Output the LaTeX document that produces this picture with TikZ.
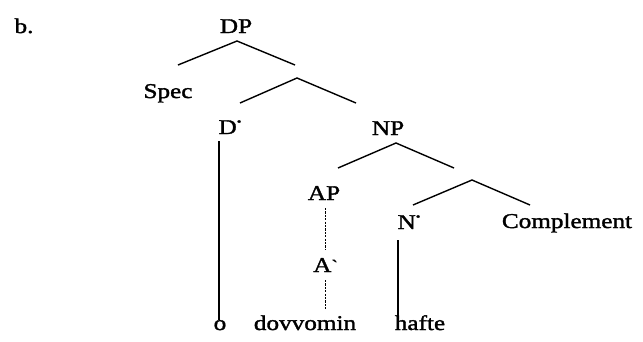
\documentclass[tikz,border=0pt]{standalone}
\usepackage{fontspec}
\setmainfont{Liberation Serif}[FakeStretch=1.2,FakeBold=1.6]
\newcommand{\dotmark}{\raisebox{0.42em}{\fontsize{11}{11}\selectfont •}}
\newcommand{\gravemark}{\raisebox{0.05em}{\fontsize{16}{16}\selectfont \textasciigrave}}
\begin{document}
\begin{tikzpicture}[x=1pt,y=-1pt,
  lbl/.style={inner sep=0pt, anchor=base, font=\fontsize{21}{24}\selectfont},
  branch/.style={line width=1.4pt},
  dotline/.style={line width=0.6pt, dash pattern=on 2.2pt off 1.2pt}]
\useasboundingbox (0,0) rectangle (643,341);
% labels
\node[lbl] (b) at (24,33) {b.};
\node[lbl] (DP) at (236,33) {DP};
\node[lbl] (Spec) at (168,98) {Spec};
\node[lbl] (Dbar) at (230,134) {D\dotmark};
\node[lbl] (NP) at (388,135) {NP};
\node[lbl] (AP) at (324,200) {AP};
\node[lbl] (Abar) at (325,272) {A\gravemark};
\node[lbl] (Nbar) at (409,229) {N\dotmark};
\node[lbl] (Comp) at (567,228) {Complement};
\node[lbl] (o) at (220,330) {o};
\node[lbl] (dov) at (305,330) {dovvomin};
\node[lbl] (hafte) at (420,330) {hafte};
% branch points
\coordinate (dpA) at (237,41);
\coordinate (dpL) at (178,65);
\coordinate (dpR) at (295,65);
\coordinate (dbA) at (297,78);
\coordinate (dbL) at (240,103);
\coordinate (dbR) at (356,103);
\coordinate (npA) at (396,143);
\coordinate (npL) at (338,168);
\coordinate (npR) at (454,168);
\coordinate (nbA) at (472,180);
\coordinate (nbL) at (413,205);
\coordinate (nbR) at (530,205);
\coordinate (dT) at (219,141);
\coordinate (dB) at (219,320);
\coordinate (nT) at (398,240);
\coordinate (nB) at (398,317);
\coordinate (aT1) at (325,208);
\coordinate (aB1) at (325,250);
\coordinate (aT2) at (325,280);
\coordinate (aB2) at (325,310);
% branches
\draw[branch] (dpL) -- (dpA) -- (dpR);
\draw[branch] (dbL) -- (dbA) -- (dbR);
\draw[branch] (npL) -- (npA) -- (npR);
\draw[branch] (nbL) -- (nbA) -- (nbR);
\draw[branch] (dT) -- (dB);
\draw[branch] (nT) -- (nB);
\draw[dotline] (aT1) -- (aB1);
\draw[dotline] (aT2) -- (aB2);
\end{tikzpicture}
\end{document}
